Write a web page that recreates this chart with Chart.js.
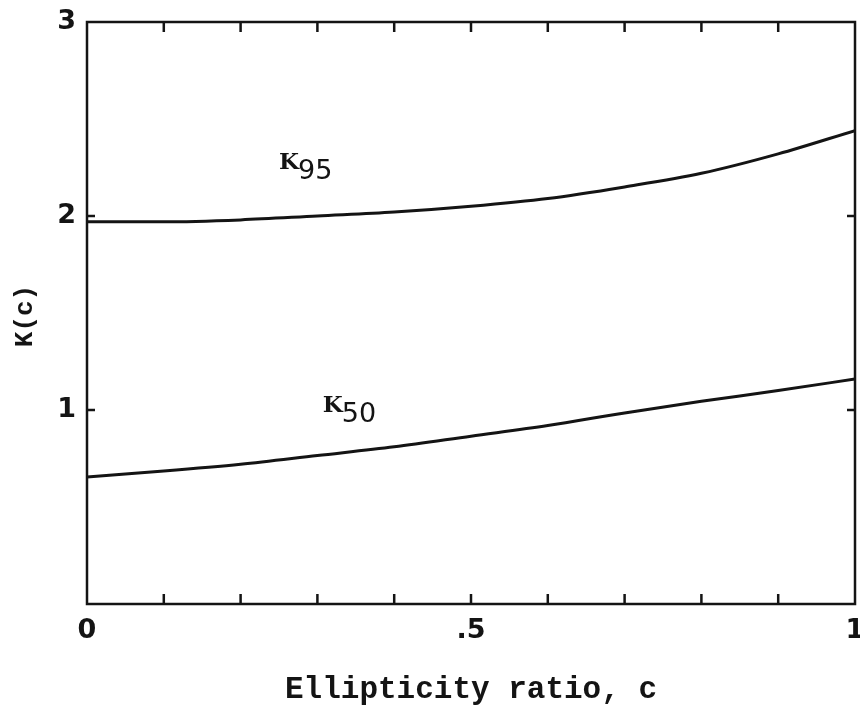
<!DOCTYPE html>
<html>
<head>
<meta charset="utf-8">
<script src="https://cdn.jsdelivr.net/npm/chart.js@4"></script>
<style>
  html, body { margin: 0; padding: 0; background: #fff; }
  #wrap { width: 860px; height: 712px; }
</style>
</head>
<body>
<div id="wrap"><canvas id="chart" width="860" height="712"></canvas></div>
<script>
// values
const cValues = [0, 0.1, 0.2, 0.3, 0.4, 0.5, 0.6, 0.7, 0.8, 0.9, 1.0];
const k95 = [1.97, 1.97, 1.98, 2.0, 2.02, 2.05, 2.09, 2.15, 2.22, 2.32, 2.44];
const k50 = [0.655, 0.685, 0.72, 0.765, 0.81, 0.865, 0.92, 0.985, 1.045, 1.1, 1.16];
const xTickLabels = [[0, "0"], [0.5, ".5"], [1, "1"]];
const yTickLabels = [[1, "1"], [2, "2"], [3, "3"]];
const curveLabels = [
  { main: "K", sub: "95", x: 0.25, y: 2.24 },
  { main: "K", sub: "50", x: 0.307, y: 0.99 }
];

const ink = "#141414";

const frame = {
  id: "frame",
  afterDraw(chart) {
    const { ctx, chartArea: a, scales: { x, y } } = chart;
    ctx.save();
    ctx.strokeStyle = ink;
    ctx.lineWidth = 2.5;
    ctx.strokeRect(a.left, a.top, a.right - a.left, a.bottom - a.top);

    // inward ticks
    ctx.beginPath();
    for (let i = 1; i < 10; i++) {
      const px = x.getPixelForValue(i / 10);
      ctx.moveTo(px, a.bottom); ctx.lineTo(px, a.bottom - 10);
      ctx.moveTo(px, a.top); ctx.lineTo(px, a.top + 10);
    }
    [1, 2].forEach(v => {
      const py = y.getPixelForValue(v);
      ctx.moveTo(a.left, py); ctx.lineTo(a.left + 8, py);
      ctx.moveTo(a.right, py); ctx.lineTo(a.right - 8, py);
    });
    ctx.stroke();

    // tick labels
    ctx.fillStyle = ink;
    ctx.font = "bold 27px 'DejaVu Sans'";
    ctx.textAlign = "center";
    ctx.textBaseline = "middle";
    xTickLabels.forEach(([v, t]) => {
      ctx.fillText(t, x.getPixelForValue(v), a.bottom + 27);
    });
    ctx.textAlign = "right";
    yTickLabels.forEach(([v, t]) => {
      ctx.fillText(t, a.left - 11, y.getPixelForValue(v));
    });

    // axis titles
    ctx.font = "bold 31px 'Liberation Mono'";
    ctx.textAlign = "center";
    ctx.fillText("Ellipticity ratio, c", (a.left + a.right) / 2, 690);
    ctx.save();
    ctx.translate(25, 316);
    ctx.rotate(-Math.PI / 2);
    ctx.font = "bold 26px 'Liberation Mono'";
    ctx.fillText("K(c)", 0, 0);
    ctx.restore();

    // curve labels
    ctx.textAlign = "left";
    ctx.textBaseline = "alphabetic";
    curveLabels.forEach(l => {
      const px = x.getPixelForValue(l.x), py = y.getPixelForValue(l.y);
      ctx.font = "bold 23px 'DejaVu Serif'";
      ctx.fillText(l.main, px, py);
      const w = ctx.measureText(l.main).width;
      ctx.font = "27px 'DejaVu Sans'";
      ctx.fillText(l.sub, px + w - 1, py + 10);
    });
    ctx.restore();
  }
};

new Chart(document.getElementById("chart"), {
  type: "line",
  data: {
    labels: cValues,
    datasets: [
      { label: "K95", data: cValues.map((c, i) => ({ x: c, y: k95[i] })) },
      { label: "K50", data: cValues.map((c, i) => ({ x: c, y: k50[i] })) }
    ]
  },
  options: {
    responsive: false,
    animation: false,
    events: [],
    layout: { padding: { left: 0, right: 5, top: 22, bottom: 0 } },
    elements: {
      line: { borderColor: ink, borderWidth: 3, cubicInterpolationMode: "monotone", fill: false },
      point: { radius: 0 }
    },
    plugins: { legend: { display: false }, tooltip: { enabled: false } },
    scales: {
      x: {
        type: "linear", min: 0, max: 1,
        ticks: { display: false },
        grid: { display: false },
        border: { display: false },
        afterFit(s) { s.height = 108; }
      },
      y: {
        min: 0, max: 3,
        ticks: { display: false },
        grid: { display: false },
        border: { display: false },
        afterFit(s) { s.width = 87; }
      }
    }
  },
  plugins: [frame]
});
</script>
</body>
</html>
